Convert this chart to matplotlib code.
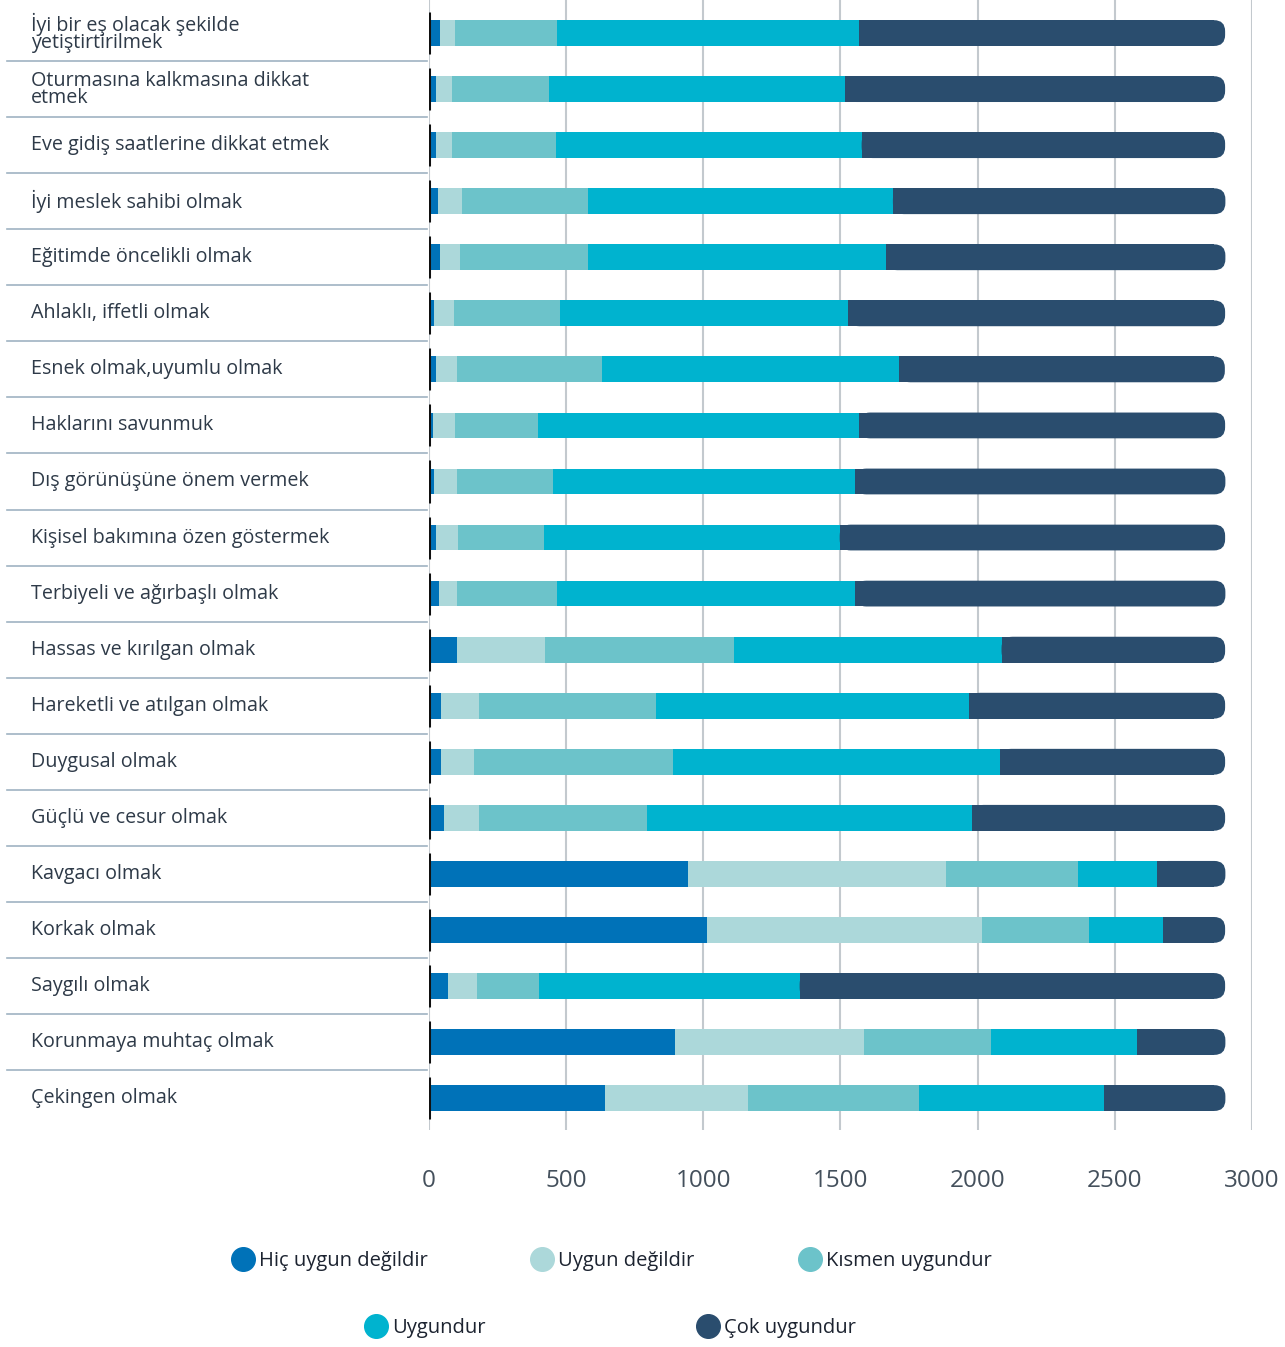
import numpy as np
import matplotlib
matplotlib.use("Agg")
import matplotlib.pyplot as plt
from matplotlib.lines import Line2D
from matplotlib.patches import FancyBboxPatch
import matplotlib.transforms as mtransforms

plt.rcParams['font.family'] = ['Open Sans', 'DejaVu Sans']

# categories (top to bottom)
labels = [
    "İyi bir eş olacak şekilde\nyetiştirtirilmek",
    "Oturmasına kalkmasına dikkat\netmek",
    "Eve gidiş saatlerine dikkat etmek",
    "İyi meslek sahibi olmak",
    "Eğitimde öncelikli olmak",
    "Ahlaklı, iffetli olmak",
    "Esnek olmak,uyumlu olmak",
    "Haklarını savunmuk",
    "Dış görünüşüne önem vermek",
    "Kişisel bakımına özen göstermek",
    "Terbiyeli ve ağırbaşlı olmak",
    "Hassas ve kırılgan olmak",
    "Hareketli ve atılgan olmak",
    "Duygusal olmak",
    "Güçlü ve cesur olmak",
    "Kavgacı olmak",
    "Korkak olmak",
    "Saygılı olmak",
    "Korunmaya muhtaç olmak",
    "Çekingen olmak",
]

# answer counts per category
hic_uygun_degil = [40, 25, 25, 33, 40, 18, 25, 15, 18, 25, 36, 102, 44, 44, 55, 943, 1012, 69, 896, 641]
uygun_degil     = [55, 58, 58, 87, 73, 73, 76, 80, 84, 80, 66, 320, 138, 120, 127, 943, 1005, 106, 688, 521]
kismen          = [371, 353, 379, 459, 466, 386, 528, 302, 350, 313, 364, 688, 645, 725, 612, 481, 390, 226, 466, 623]
uygun           = [1103, 1082, 1115, 1112, 1088, 1052, 1086, 1171, 1102, 1079, 1088, 977, 1142, 1193, 1187, 288, 269, 950, 531, 677]
cok_uygun       = [1333, 1384, 1325, 1212, 1236, 1373, 1186, 1334, 1349, 1405, 1349, 815, 933, 820, 921, 248, 226, 1551, 322, 441]

series_names = ["Hiç uygun değildir", "Uygun değildir", "Kısmen uygundur", "Uygundur", "Çok uygundur"]
colors = ["#0072b8", "#acd8da", "#6cc3ca", "#00b3cf", "#2a4d6e"]

xticks = [0, 500, 1000, 1500, 2000, 2500, 3000]

fig = plt.figure(figsize=(12.85, 13.47), dpi=100)
ax = fig.add_axes([429 / 1285, 1 - 1130 / 1347, 823 / 1285, 1130 / 1347])

y = np.arange(len(labels))
bar_h = 0.46
data = [np.array(s, dtype=float) for s in (hic_uygun_degil, uygun_degil, kismen, uygun, cok_uygun)]
left = np.zeros(len(labels))

# rounded end of the last segment
rx = 40.0                      # corner radius in x data units (~11 px)
aspect = 0.196 / rx            # y units per x unit for the corner

for k, (vals, col) in enumerate(zip(data, colors)):
    if k < len(data) - 1:
        ax.barh(y, vals, left=left, height=bar_h, color=col, linewidth=0, zorder=3)
    else:
        ax.barh(y, vals - rx, left=left, height=bar_h, color=col, linewidth=0, zorder=3)
        for yi, l0, v in zip(y, left, vals):
            p = FancyBboxPatch((l0, yi - bar_h / 2), v, bar_h,
                               boxstyle=f"round,pad=0,rounding_size={rx}",
                               mutation_aspect=aspect, facecolor=col,
                               linewidth=0, zorder=3)
            ax.add_patch(p)
    left = left + vals

# short black marks at zero
ax.vlines(np.zeros(len(y)), y - 0.375, y + 0.375, color="#111111", lw=2.2, zorder=4)

ax.set_xlim(0, 3000)
ax.set_ylim(len(labels) - 1 + 0.57, -0.59)
ax.set_xticks(xticks)
ax.set_xticklabels([str(t) for t in xticks])
ax.set_yticks([])
ax.tick_params(axis="x", length=0, pad=28, labelsize=17.5, labelcolor="#44505c")
ax.grid(axis="x", color="#c3c9ce", lw=1.5, zorder=0)
for s in ax.spines.values():
    s.set_visible(False)

# category labels and separators on the left
trans = mtransforms.blended_transform_factory(ax.transAxes, ax.transData)
for yi, lab in zip(y, labels):
    ax.text(-0.4836, yi, lab, transform=trans, ha="left", va="center",
            fontsize=14.2, color="#2e3a48", linespacing=0.8, clip_on=False)
for yi in y[:-1]:
    ax.plot([-0.5128, -0.002], [yi + 0.5, yi + 0.5], transform=trans,
            color="#9fb3c2", lw=1.2, clip_on=False)

# legend in two rows
handles = [Line2D([0], [0], marker="o", linestyle="", markersize=17,
                  markerfacecolor=c, markeredgecolor=c) for c in colors]
leg1 = fig.legend(handles[:3], series_names[:3], loc="center",
                  bbox_to_anchor=(612 / 1285, 1 - 1261 / 1347), ncol=3,
                  frameon=False, fontsize=14.5, handletextpad=0.3,
                  columnspacing=5.2, handlelength=1.0)
leg2 = fig.legend(handles[3:], series_names[3:], loc="center",
                  bbox_to_anchor=(611 / 1285, 1 - 1328 / 1347), ncol=2,
                  frameon=False, fontsize=14.5, handletextpad=0.3,
                  columnspacing=10.5, handlelength=1.0)
for t in leg1.get_texts() + leg2.get_texts():
    t.set_color("#1c2330")

fig.savefig("out.png", dpi=100)
